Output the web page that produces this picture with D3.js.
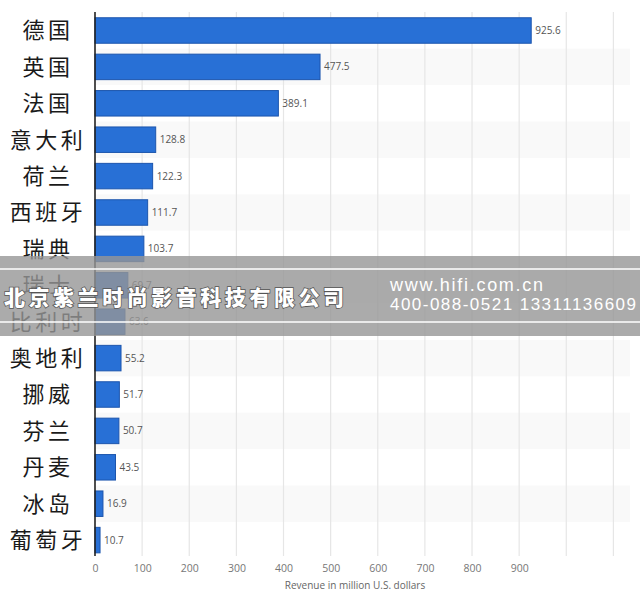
<!DOCTYPE html>
<html><head><meta charset="utf-8">
<script src="https://cdn.jsdelivr.net/npm/d3@7/dist/d3.min.js"></script>
<style>body{margin:0;background:#fff;}svg{display:block;}</style>
</head><body><svg id="c" width="640" height="592"></svg>
<script>
const categories = ["德国","英国","法国","意大利","荷兰","西班牙","瑞典","瑞士","比利时","奥地利","挪威","芬兰","丹麦","冰岛","葡萄牙"];
const values = [925.6,477.5,389.1,128.8,122.3,111.7,103.7,69.7,63.6,55.2,51.7,50.7,43.5,16.9,10.7];
const tickValues = [0,100,200,300,400,500,600,700,800,900];
const gridValues = [100,200,300,400,500,600,700,800,900,1000,1100];
const axisTitle = "Revenue in million U.S. dollars";
const wmCompany = "北京紫兰时尚影音科技有限公司";
const wmSite = "www.hifi.com.cn";
const wmPhone = "400-088-0521  13311136609";

const svg = d3.select("#c");
const x = d3.scaleLinear().domain([0,1100]).range([95,613.4]);
const y = d3.scaleBand().domain(categories).range([12.3,558.3]).paddingInner(0.3).paddingOuter(0.15);
const step = y.step();

// stripes
svg.append("g").selectAll("rect").data(categories.filter((d,i)=>i%2===1)).join("rect")
  .attr("x",95).attr("width",535)
  .attr("y",d=>y(d)-step*0.15).attr("height",step)
  .attr("fill","#f9f9f9");

// grid
svg.append("g").selectAll("line").data(gridValues).join("line")
  .attr("x1",d=>x(d)).attr("x2",d=>x(d)).attr("y1",12).attr("y2",556)
  .attr("stroke","#e6e6e6").attr("stroke-width",1.2);

// bars
svg.append("g").selectAll("rect").data(values).join("rect")
  .attr("x",x(0)).attr("y",(d,i)=>y(categories[i]))
  .attr("width",d=>x(d)-x(0)).attr("height",y.bandwidth())
  .attr("fill","#2870d6").attr("stroke","#1c55ad").attr("stroke-width",1);

// value labels
svg.append("g").selectAll("text").data(values).join("text")
  .attr("x",d=>x(d)+4).attr("y",(d,i)=>y(categories[i])+y.bandwidth()/2)
  .attr("dy","0.35em").attr("font-family","Open Sans, sans-serif").attr("font-size",10)
  .attr("fill","#555").text(d=>d.toFixed(1));

// y axis line
svg.append("line").attr("x1",x(0)).attr("x2",x(0)).attr("y1",12).attr("y2",556)
  .attr("stroke","#222").attr("stroke-width",1.6);

// category labels
svg.append("g").selectAll("text").data(categories).join("text")
  .attr("x",48).attr("y",d=>y(d)+y.bandwidth()/2).attr("dy","0.36em")
  .attr("text-anchor","middle").attr("font-family","Noto Sans CJK SC").attr("font-size",22)
  .attr("letter-spacing",3.5).attr("fill","#1a1a1a").text(d=>d);

// x axis tick labels
const xAxis = d3.axisBottom(x).tickValues(tickValues).tickSize(0).tickPadding(0);
const gx = svg.append("g").attr("transform","translate(0,565)").call(xAxis);
gx.select(".domain").remove();
gx.selectAll("text").attr("font-family","Open Sans, sans-serif").attr("font-size",10.5).attr("fill","#777");

svg.append("text").attr("x",355).attr("y",589).attr("text-anchor","middle")
  .attr("font-family","Open Sans, sans-serif").attr("font-size",10).attr("fill","#666").text(axisTitle);

// watermark band
svg.append("rect").attr("x",0).attr("y",256).attr("width",640).attr("height",80)
  .attr("fill","rgb(150,150,150)").attr("opacity",0.8);
[269,322].forEach(v=>svg.append("line").attr("x1",0).attr("x2",640).attr("y1",v).attr("y2",v)
  .attr("stroke","#fff").attr("stroke-width",1.5));
svg.append("text").attr("x",4).attr("y",305).attr("font-family","Noto Sans CJK SC").attr("font-weight","900")
  .attr("font-size",21).attr("textLength",340).attr("fill","#fff").attr("stroke","#555").attr("stroke-width",1.5)
  .attr("paint-order","stroke").text(wmCompany);
svg.append("text").attr("x",390).attr("y",291).attr("font-family","Liberation Sans, sans-serif")
  .attr("font-size",18).attr("textLength",153).attr("fill","#fff").text(wmSite);
svg.append("text").attr("x",390).attr("y",310).attr("font-family","Liberation Sans, sans-serif")
  .attr("font-size",17).attr("fill","#fff").attr("textLength",246).text(wmPhone);
</script></body></html>
